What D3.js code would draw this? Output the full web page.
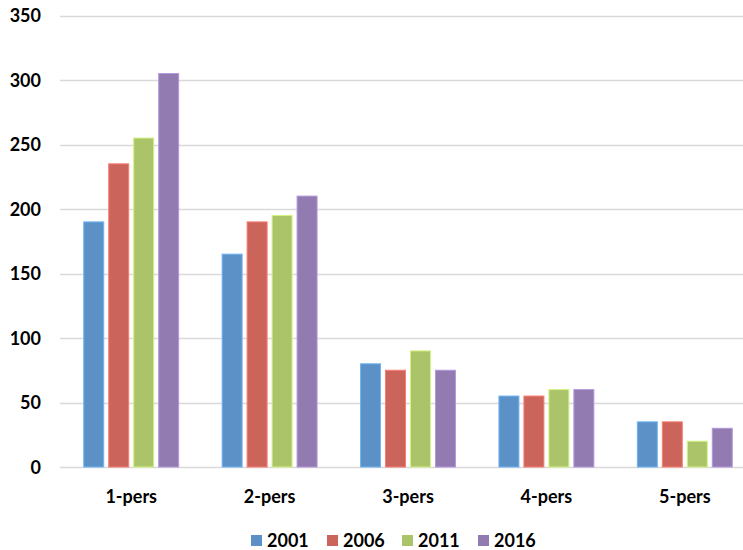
<!DOCTYPE html>
<html>
<head>
<meta charset="utf-8">
<script src="https://cdn.jsdelivr.net/npm/d3@7"></script>
<style>
  body { margin: 0; background: #fff; }
  svg { display: block; }
  text { font-family: Lato, "Open Sans", sans-serif; font-weight: bold; fill: #000; }
</style>
</head>
<body>
<svg id="chart" width="743" height="550"></svg>
<script>
const categories = ["1-pers", "2-pers", "3-pers", "4-pers", "5-pers"];
const years = ["2001", "2006", "2011", "2016"];
const values2001 = [190, 165, 80, 55, 35];
const values2006 = [235, 190, 75, 55, 35];
const values2011 = [255, 195, 90, 60, 20];
const values2016 = [305, 210, 75, 60, 30];
const yTicks = [0, 50, 100, 150, 200, 250, 300, 350];
const colors = ["#5B91C6", "#CB645B", "#ABC46A", "#917BB1"];

const series = [values2001, values2006, values2011, values2016];
const svg = d3.select("#chart");

const margin = { left: 62, right: 754, top: 15.5, bottom: 467 };

const x = d3.scaleBand().domain(categories).range([margin.left, margin.right]).paddingInner(0).paddingOuter(0);
const x1 = d3.scaleBand().domain(years).range([0, x.bandwidth()]).paddingInner(0.2).paddingOuter(0.87);
const y = d3.scaleLinear().domain([0, 350]).range([margin.bottom, margin.top]);

// horizontal gridlines
svg.append("g")
  .selectAll("line")
  .data(yTicks)
  .join("line")
  .attr("x1", 60).attr("x2", 743)
  .attr("y1", d => Math.round(y(d)) + 0.5).attr("y2", d => Math.round(y(d)) + 0.5)
  .attr("stroke", "#D9D9D9").attr("stroke-width", 1.5);

// y axis labels
const yAxis = d3.axisLeft(y).tickValues(yTicks).tickSize(0).tickPadding(0);
const gy = svg.append("g").attr("transform", "translate(41,0)").call(yAxis);
gy.select(".domain").remove();
gy.selectAll("text").attr("font-size", 18).attr("font-family", "Lato, sans-serif").attr("font-weight", "bold").attr("fill", "#000").attr("dy", "0.35em");

// bars
const groups = svg.append("g")
  .selectAll("g")
  .data(categories)
  .join("g")
  .attr("transform", d => `translate(${x(d)},0)`);

groups.selectAll("rect")
  .data((c, i) => years.map((yr, j) => ({ yr, j, v: series[j][i] })))
  .join("rect")
  .attr("x", d => x1(d.yr))
  .attr("width", x1.bandwidth())
  .attr("y", d => y(d.v))
  .attr("height", d => y(0) - y(d.v))
  .attr("fill", d => colors[d.j])
  .attr("stroke", d => d3.color(colors[d.j]).brighter(0.6))
  .attr("stroke-width", 1);

// category labels
const xAxis = d3.axisBottom(x).tickSize(0).tickPadding(0);
const gx = svg.append("g").attr("transform", "translate(0,497)").call(xAxis);
gx.select(".domain").remove();
gx.selectAll("text").attr("font-size", 18).attr("font-family", "Lato, sans-serif").attr("font-weight", "bold").attr("fill", "#000").attr("dy", "0.35em");

// legend
const legendX = [251, 327, 402, 478];
const legend = svg.append("g")
  .selectAll("g")
  .data(years)
  .join("g")
  .attr("transform", (d, i) => `translate(${legendX[i]},535)`);
legend.append("rect").attr("width", 11).attr("height", 11).attr("fill", (d, i) => colors[i]);
legend.append("text").attr("x", 16).attr("y", 5.5).attr("dy", "0.35em")
  .attr("font-size", 18).text(d => d);
</script>
</body>
</html>
